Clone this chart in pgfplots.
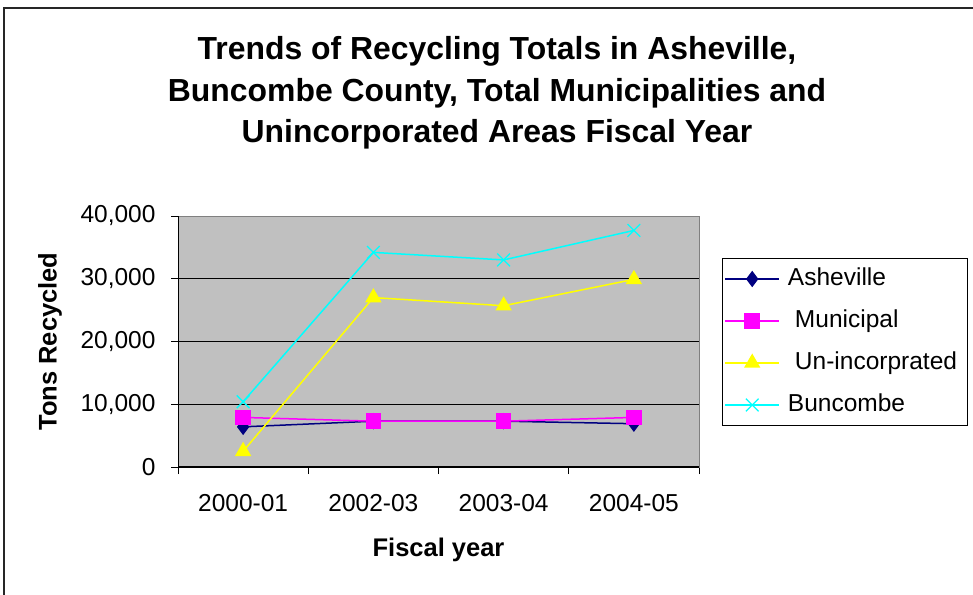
\documentclass[border=0pt]{standalone}
\usepackage{pgfplots}
\pgfplotsset{compat=1.18}
\usepackage{fontspec}
\setmainfont{Liberation Sans}
\definecolor{cAsh}{HTML}{000080}
\definecolor{cMun}{HTML}{FF00FF}
\definecolor{cUn}{HTML}{FFFF00}
\definecolor{cBun}{HTML}{00FFFF}
\definecolor{cBg}{HTML}{C0C0C0}
\begin{document}
\begin{tikzpicture}[x=1pt,y=1pt]
\path[use as bounding box] (0,0) rectangle (973,594);
\draw[line width=1.2pt, black!85] (4,-5) -- (4,586) -- (985,586);
\node[align=center, font=\fontsize{31.9}{41.5}\selectfont\bfseries] at (497,501)
  {Trends of Recycling Totals in Asheville,\\Buncombe County, Total Municipalities and\\Unincorporated Areas Fiscal Year};
\begin{axis}[
  at={(178pt,127pt)}, anchor=south west,
  scale only axis, width=521pt, height=251pt,
  axis background/.style={fill=cBg},
  axis line style={draw=gray, line width=1pt},
  xmin=-0.5, xmax=3.5, ymin=0, ymax=40000,
  xtick={0,1,2,3},
  xticklabels={2000-01,2002-03,2003-04,2004-05},
  minor xtick={-0.5,0.5,1.5,2.5,3.5},
  ytick={0,10000,20000,30000,40000},
  xtick pos=bottom, ytick pos=left,
  tick align=outside,
  major tick length=7pt, minor tick length=7pt,
  every major x tick/.append style={draw=none},
  every minor x tick/.append style={black, line width=1pt},
  every major y tick/.append style={black, line width=1pt},
  ymajorgrids, major grid style={black, line width=1pt},
  scaled y ticks=false,
  /pgf/number format/.cd, 1000 sep={,}, assume math mode=true, /pgfplots/.cd,
  tick label style={font=\fontsize{24.5}{28}\selectfont},
  xticklabel style={yshift=-17pt},
  yticklabel style={xshift=-12pt},
  xlabel={Fiscal year},
  ylabel={Tons Recycled},
  label style={font=\fontsize{25.5}{30}\selectfont\bfseries},
  xlabel style={at={(axis description cs:0.5,-0.331)}, anchor=center},
  ylabel style={at={(axis description cs:-0.2457,0.5)}, anchor=center},
  legend style={at={(axis description cs:1.0441,0.8327)}, anchor=north west,
    draw=black, line width=1pt, fill=white,
    font=\fontsize{24.5}{28}\selectfont,
    nodes={inner ysep=0pt, inner xsep=8pt, text height=18pt, text depth=5pt},
    row sep=19pt, inner xsep=2pt, inner ysep=9pt},
  legend cell align=left,
  legend image code/.code={\draw[mark repeat=2, mark phase=2] plot coordinates {(0pt,0pt) (27pt,0pt) (54pt,0pt)};},
]
\addplot[cAsh, line width=1.5pt, mark=diamond*, mark size=7pt, mark options={fill=cAsh, draw=cAsh}]
  coordinates {(0,6400) (1,7300) (2,7300) (3,6900)};
\addlegendentry{Asheville}
\addplot[cMun, line width=1.5pt, mark=square*, mark size=7pt, mark options={fill=cMun, draw=cMun}]
  coordinates {(0,7900) (1,7300) (2,7300) (3,7900)};
\addlegendentry{\hspace*{7pt}Municipal}
\addplot[cUn, line width=1.5pt, mark=triangle*, mark size=8pt, mark options={fill=cUn, draw=cUn}]
  coordinates {(0,2500) (1,27000) (2,25700) (3,29900)};
\addlegendentry{\hspace*{7pt}Un-incorprated}
\addplot[cBun, line width=1.5pt, mark=x, mark size=9pt, mark options={draw=cBun, line width=1.3pt}]
  coordinates {(0,10400) (1,34200) (2,33000) (3,37700)};
\addlegendentry{Buncombe}
\draw[black, line width=1.2pt] (rel axis cs:0,1) -- (rel axis cs:0,0) -- (rel axis cs:1,0);
\end{axis}
\end{tikzpicture}
\end{document}
